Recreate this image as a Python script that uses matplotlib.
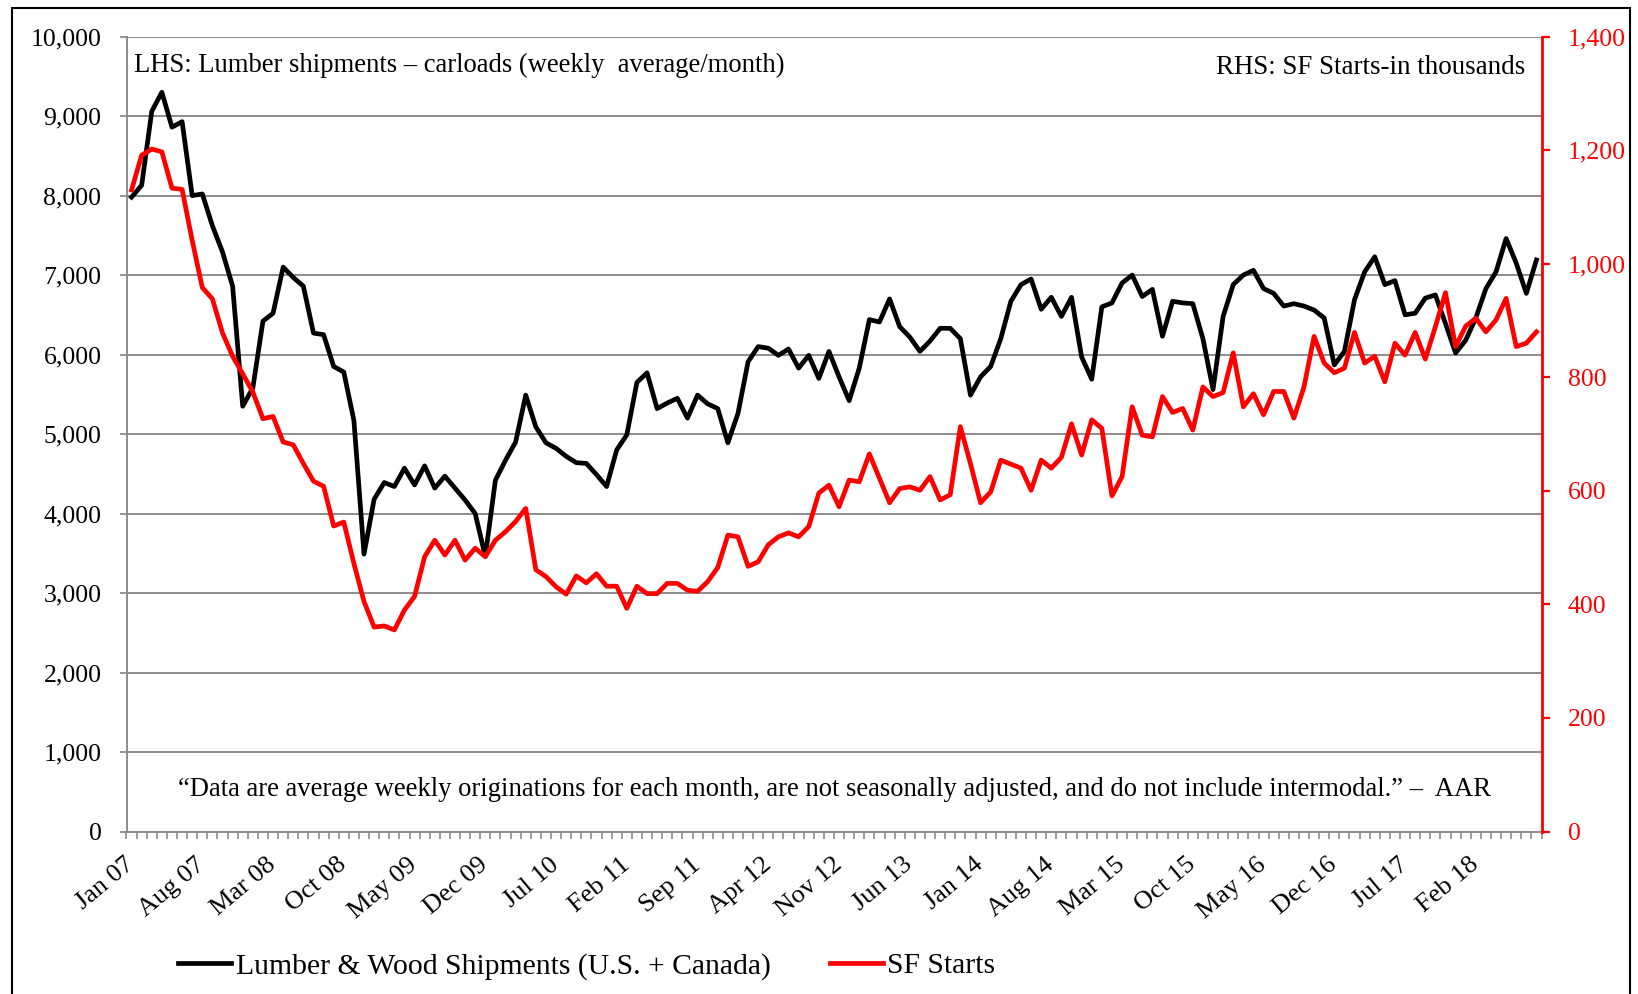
import numpy as np
import matplotlib
matplotlib.use("Agg")
import matplotlib.pyplot as plt
from matplotlib.patches import Rectangle
from matplotlib.ticker import FuncFormatter

# Monthly values, Jan 2007 - Aug 2018
lumber_shipments = [
    7980, 8130, 9060, 9300, 8860, 8930, 8000, 8020, 7620, 7290, 6860, 5350,
    5580, 6420, 6520, 7100, 6970, 6860, 6270, 6250, 5850, 5780, 5170, 3490,
    4180, 4390, 4340, 4570, 4360, 4600, 4320, 4470, 4320, 4170, 4000, 3460,
    4420, 4670, 4900, 5490, 5090, 4890, 4820, 4720, 4640, 4630, 4490, 4340,
    4800, 4990, 5650, 5770, 5320, 5390, 5450, 5200, 5490, 5380, 5320, 4890,
    5260, 5910, 6100, 6080, 5990, 6070, 5830, 5990, 5700, 6040, 5720, 5420,
    5830, 6440, 6410, 6700, 6350, 6220, 6040, 6170, 6330, 6330, 6200, 5490,
    5720, 5850, 6200, 6670, 6880, 6950, 6570, 6720, 6480, 6720, 5970, 5690,
    6600, 6650, 6900, 7000, 6730, 6820, 6230, 6670, 6650, 6640, 6200, 5560,
    6480, 6880, 7000, 7060, 6830, 6770, 6610, 6640, 6610, 6560, 6460, 5870,
    6040, 6690, 7040, 7230, 6880, 6930, 6500, 6520, 6710, 6750, 6390, 6020,
    6180, 6460, 6830, 7040, 7460, 7150, 6770, 7190,
]

sf_starts = [
    1130, 1191, 1202, 1197, 1133, 1131, 1041, 958, 938, 878, 837, 806,
    774, 727, 731, 686, 681, 648, 617, 608, 538, 545, 472, 405,
    360, 362, 355, 390, 414, 484, 513, 487, 513, 478, 499, 484,
    513, 528, 546, 569, 461, 449, 431, 418, 450, 438, 454, 432,
    432, 393, 432, 419, 419, 437, 437, 425, 423, 440, 465, 522,
    519, 467, 475, 505, 519, 526, 519, 537, 596, 610, 572, 619,
    616, 665, 622, 579, 604, 607, 601, 625, 584, 593, 713, 648,
    579, 598, 654, 647, 640, 601, 654, 640, 659, 718, 663, 725,
    710, 591, 625, 748, 698, 695, 766, 738, 745, 707, 783, 766,
    773, 843, 748, 771, 734, 775, 775, 728, 783, 872, 825, 808,
    816, 879, 825, 837, 792, 860, 839, 879, 832, 889, 949, 854,
    890, 904, 880, 901, 939, 854, 860, 880,
]

tick_labels = [
    "Jan 07", "Aug 07", "Mar 08", "Oct 08", "May 09", "Dec 09", "Jul 10",
    "Feb 11", "Sep 11", "Apr 12", "Nov 12", "Jun 13", "Jan 14", "Aug 14",
    "Mar 15", "Oct 15", "May 16", "Dec 16", "Jul 17", "Feb 18",
]

W, H = 1638, 994
GRAY = "#8c8c8c"
RED = "#ff0000"
SERIF = ["Liberation Serif", "DejaVu Serif"]

plt.rcParams["font.family"] = SERIF

fig = plt.figure(figsize=(W / 100, H / 100), dpi=100)
fig.patch.set_facecolor("white")

# plot area in pixel coordinates of the reference
left, right, top, bottom = 126.5, 1541.5, 36.6, 831.5
ax = fig.add_axes([left / W, 1 - bottom / H, (right - left) / W, (bottom - top) / H])
ax2 = ax.twinx()

x = np.arange(len(lumber_shipments))
line_black, = ax.plot(x, lumber_shipments, color="black", lw=3.4,
                      label="Lumber & Wood Shipments (U.S. + Canada)")
line_red, = ax2.plot(x, sf_starts, color=RED, lw=3.4, label="SF Starts")

ax.set_xlim(-0.5, len(x) - 0.5)
ax.set_ylim(0, 10000)
ax2.set_ylim(0, 1400)

# left axis
ax.set_yticks(np.arange(0, 10001, 1000))
ax.yaxis.set_major_formatter(FuncFormatter(lambda v, p: f"{int(v):,}"))
ax.yaxis.grid(True, color=GRAY, lw=1.4)
ax.set_axisbelow(True)
ax.tick_params(axis="y", direction="out", length=5, width=1.3, color=GRAY,
               labelsize=18.5, pad=13)

# category axis: labels every 7 months, small marks between months
ax.set_xticks(x[::7])
ax.set_xticklabels(tick_labels, rotation=40, ha="right", va="center",
                   rotation_mode="anchor", fontsize=19)
ax.set_xticks(np.arange(-0.5, len(x), 1), minor=True)
ax.tick_params(axis="x", which="major", length=0, pad=22)
ax.tick_params(axis="x", which="minor", direction="out", length=5, width=1.2,
               color=GRAY)

for name in ["top", "right"]:
    ax.spines[name].set_visible(False)
ax.spines["left"].set_color(GRAY)
ax.spines["left"].set_linewidth(1.4)
ax.spines["bottom"].set_color(GRAY)
ax.spines["bottom"].set_linewidth(1.4)

# right axis
ax2.set_yticks(np.arange(0, 1401, 200))
ax2.yaxis.set_major_formatter(FuncFormatter(lambda v, p: f"{int(v):,}"))
ax2.tick_params(axis="y", direction="out", length=6, width=1.6, color=RED,
                labelcolor=RED, labelsize=18.5, pad=13)
for name in ["top", "left", "bottom"]:
    ax2.spines[name].set_visible(False)
ax2.spines["right"].set_color(RED)
ax2.spines["right"].set_linewidth(2.0)

renderer = fig.canvas.get_renderer()


def fit_width(txt, target_px):
    """Scale a text's font size so it spans target_px pixels."""
    w = txt.get_window_extent(renderer).width
    txt.set_fontsize(txt.get_fontsize() * target_px / w)


t1 = fig.text(133.7 / W, 1 - 65.5 / H,
              "LHS: Lumber shipments \u2013 carloads (weekly  average/month)",
              ha="left", va="center", fontsize=17)
fit_width(t1, 653)

t2 = fig.text(1525 / W, 1 - 67.5 / H, "RHS: SF Starts-in thousands",
              ha="right", va="center", fontsize=17)
fit_width(t2, 310)

t3 = fig.text(835 / W, 1 - 790 / H,
              "\u201cData are average weekly originations for each month, are not "
              "seasonally adjusted, and do not include intermodal.\u201d \u2013  AAR",
              ha="center", va="center", fontsize=17)
fit_width(t3, 1318)

fig.legend(handles=[line_black, line_red], loc="center left",
           bbox_to_anchor=(178 / W, 1 - 966 / H), ncol=2, frameon=False,
           fontsize=21.3, handlelength=1.8, handletextpad=0.15,
           columnspacing=2.0, borderaxespad=0, borderpad=0)

# frame around the pasted chart
fig.add_artist(Rectangle((12 / W, -0.05), (1630 - 12) / W, 986 / H + 0.05,
                         transform=fig.transFigure, fill=False,
                         edgecolor="black", lw=1.5))

fig.savefig("out.png", dpi=100)
